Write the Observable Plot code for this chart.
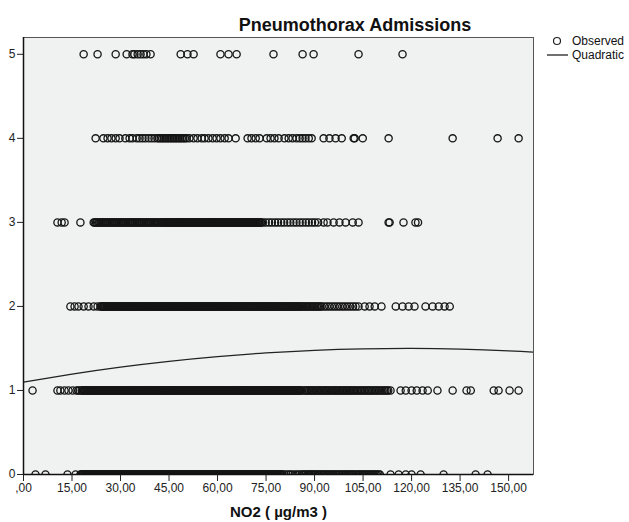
<!DOCTYPE html>
<html>
<head>
<meta charset="utf-8">
<script src="https://cdn.jsdelivr.net/npm/d3@7"></script>
<script src="https://cdn.jsdelivr.net/npm/@observablehq/plot@0.6"></script>
<style>
  html, body { margin: 0; padding: 0; background: #fff; }
  #wrap { position: relative; width: 629px; height: 522px; font-family: "Liberation Sans", Arial, sans-serif; }
  #title { position: absolute; left: 205px; width: 300px; top: 16px; text-align: center; font-size: 18px; line-height: 18px; font-weight: bold; color: #111; }
  .leg { position: absolute; font-size: 12px; line-height: 12px; color: #111; }
  svg [aria-label="x-axis label"] text { font-weight: bold; font-size: 15px; fill: #111; }
</style>
</head>
<body>
<div id="wrap">
  <div id="title">Pneumothorax Admissions</div>
  <svg class="leg" style="left:552px;top:36px" width="12" height="12"><circle cx="5" cy="5" r="3.5" fill="none" stroke="#222" stroke-width="1.2"/></svg>
  <div class="leg" style="left:572px;top:35px">Observed</div>
  <svg class="leg" style="left:547px;top:50px" width="22" height="10"><line x1="0" y1="5" x2="21" y2="5" stroke="#222" stroke-width="1.3"/></svg>
  <div class="leg" style="left:572px;top:49px">Quadratic</div>
</div>
<script>
const xTicks = [0, 15, 30, 45, 60, 75, 90, 105, 120, 135, 150];
const xTickLabels = [",00", "15,00", "30,00", "45,00", "60,00", "75,00", "90,00", "105,00", "120,00", "135,00", "150,00"];
const yTicks = [0, 1, 2, 3, 4, 5];
const yTickLabels = ["0", "1", "2", "3", "4", "5"];

// Quadratic fit
const fitX = [0, 15, 30, 45, 60, 75, 90, 105, 120, 135, 150, 157.7];
const fitY = [1.10, 1.195, 1.278, 1.347, 1.403, 1.447, 1.478, 1.495, 1.500, 1.492, 1.471, 1.455];

// Observed NO2 values for each admissions count
const obs0 = [3.7, 6.8, 13.6, 16.1,
17.6,18.1,18.5,19,19.6,20,20.5,21.1,21.5,22,22.6,23,23.5,24.1,24.5,25,25.6,26,26.5,27.1,27.5,28,28.6,29,29.5,30.1,30.5,31,31.6,32,32.5,33.1,33.5,34,34.6,35,35.5,36.1,36.5,37,37.6,38,38.5,39.1,39.5,40,40.6,41,41.5,42.1,42.5,43,43.6,44,44.5,45.1,45.5,46,46.6,47,47.5,48.1,48.5,49,49.6,50,50.5,51.1,51.5,52,52.6,53,53.5,54.1,54.5,55,55.6,56,56.5,57.1,57.5,58,58.6,59,59.5,60.1,60.5,61,61.6,62,62.5,63.1,63.5,64,64.6,65,65.5,66.1,66.5,67,67.6,68,68.5,69.1,69.5,70,70.6,71,71.5,72.1,72.5,73,73.6,74,74.5,75.1,75.5,76,76.6,77,77.5,78.1,78.5,79,79.6,80,80.6,81.3,82,82.6,83.2,84,84.7,85.3,86,
17.8,18.3,18.8,19.3,19.8,20.3,20.8,21.3,21.8,22.3,22.8,23.3,23.8,24.3,24.8,25.3,25.8,26.3,26.8,27.3,27.8,28.3,28.8,29.3,29.8,30.3,30.8,31.3,31.8,32.3,32.8,33.3,33.8,34.3,34.8,35.3,35.8,36.3,36.8,37.3,37.8,38.3,38.8,39.3,39.8,40.3,40.8,41.3,41.8,42.3,42.8,43.3,43.8,44.3,44.8,45.3,45.8,46.3,46.8,47.3,47.8,48.3,48.8,49.3,49.8,50.3,50.8,51.3,51.8,52.3,52.8,53.3,53.8,54.3,54.8,55.3,55.8,56.3,56.8,57.3,57.8,58.3,58.8,59.3,59.8,60.3,60.8,61.3,61.8,62.3,62.8,63.3,63.8,64.3,64.8,65.3,65.8,66.3,66.8,67.3,67.8,68.3,68.8,69.3,69.8,70.3,70.8,71.3,71.8,72.3,72.8,73.3,73.8,74.3,74.8,75.3,75.8,76.3,76.8,77.3,77.8,78.3,78.8,79.3,79.8,
86.8,87.7,88.5,89.2,90,90.9,91.7,92.6,93.5,94.3,95.2,96,96.9,97.8,98.8,99.6,100.5,101.3,102.2,103.2,104,104.9,105.8,106.7,107.5,108.4,109.3,110.2,
86.4,87.2,88.1,88.9,89.6,90.4,91.3,92.2,93,93.9,94.7,95.6,96.5,97.4,98.3,99.2,100,100.9,101.8,102.7,103.6,104.5,105.4,106.2,107.1,108,108.9,109.8,
113.5, 116, 118.2, 120, 122.8, 129.9, 139.8, 143.5];

const obs1 = [2.8, 10.5, 11.4, 12.7, 13.9, 15.2, 16.4,
16.9,17.4,18,18.4,18.9,19.5,19.9,20.4,21,21.4,21.9,22.5,22.9,23.4,24,24.4,24.9,25.5,25.9,26.4,27,27.4,27.9,28.5,28.9,29.4,30,30.4,30.9,31.5,31.9,32.4,33,33.4,33.9,34.5,34.9,35.4,36,36.4,36.9,37.5,37.9,38.4,39,39.4,39.9,40.5,40.9,41.4,42,42.4,42.9,43.5,43.9,44.4,45,45.4,45.9,46.5,46.9,47.4,48,48.4,48.9,49.5,49.9,50.4,51,51.4,51.9,52.5,52.9,53.4,54,54.4,54.9,55.5,55.9,56.4,57,57.4,57.9,58.5,58.9,59.4,60,60.4,60.9,61.5,61.9,62.4,63,63.4,63.9,64.5,64.9,65.4,66,66.4,66.9,67.5,67.9,68.4,69,69.4,69.9,70.5,70.9,71.4,72,72.4,72.9,73.5,73.9,74.4,75,75.4,75.9,76.5,76.9,77.4,78,78.4,78.9,79.5,79.9,80.4,81,81.4,81.9,82.5,82.9,83.4,84,84.4,84.9,85.5,86,
18.2,18.7,19.2,19.7,20.2,20.7,21.2,21.7,22.2,22.7,23.2,23.7,24.2,24.7,25.2,25.7,26.2,26.7,27.2,27.7,28.2,28.7,29.2,29.7,30.2,30.7,31.2,31.7,32.2,32.7,33.2,33.7,34.2,34.7,35.2,35.7,36.2,36.7,37.2,37.7,38.2,38.7,39.2,39.7,40.2,40.7,41.2,41.7,42.2,42.7,43.2,43.7,44.2,44.7,45.2,45.7,46.2,46.7,47.2,47.7,48.2,48.7,49.2,49.7,50.2,50.7,51.2,51.7,52.2,52.7,53.2,53.7,54.2,54.7,55.2,55.7,56.2,56.7,57.2,57.7,58.2,58.7,59.2,59.7,60.2,60.7,61.2,61.7,62.2,62.7,63.2,63.7,64.2,64.7,65.2,65.7,66.2,66.7,67.2,67.7,68.2,68.7,69.2,69.7,70.2,70.7,71.2,71.7,72.2,72.7,73.2,73.7,74.2,74.7,75.2,75.7,76.2,76.7,77.2,77.7,78.2,78.7,79.2,79.7,80.2,80.7,81.2,81.7,82.2,82.7,83.2,83.7,84.2,84.7,85.2,85.7,
86.7,87.5,88.3,89,89.8,90.6,91.3,92.1,92.9,93.6,94.4,95.2,96,96.7,97.5,98.3,99.1,99.8,100.6,101.4,102.2,103,103.9,104.7,105.6,106.5,107.3,108.2,109.1,110,111,111.9,112.8,113.5,
87.1,87.9,88.7,89.4,90.2,91,91.7,92.5,93.3,94,94.8,95.6,96.4,97.1,97.9,98.7,99.5,100.2,101,101.8,102.6,103.5,104.3,105.2,106.1,106.9,107.8,108.7,109.6,110.5,111.5,112.4,
116.6, 118.2, 120, 121.6, 123.4, 125, 128, 132.7, 137, 138.3, 145.4, 146.9, 150.3, 153.1];

const obs2 = [14.5, 15.8, 17, 18.6, 20.1, 21.7, 22.9,
23.8,24.3,24.8,25.3,25.8,26.3,26.8,27.3,27.8,28.3,28.8,29.3,29.8,30.3,30.8,31.3,31.8,32.3,32.8,33.3,33.8,34.3,34.8,35.3,35.8,36.3,36.8,37.3,37.8,38.3,38.8,39.3,39.8,40.3,40.8,41.3,41.8,42.3,42.8,43.3,43.8,44.3,44.8,45.3,45.8,46.3,46.8,47.3,47.8,48.3,48.8,49.3,49.8,50.3,50.8,51.3,51.8,52.3,52.8,53.3,53.8,54.3,54.8,55.3,55.8,56.3,56.8,57.3,57.8,58.3,58.8,59.3,59.8,60.3,60.8,61.3,61.8,62.3,62.8,63.3,63.8,64.3,64.8,
24.1,24.6,25.1,25.6,26.1,26.6,27.1,27.6,28.1,28.6,29.1,29.6,30.1,30.6,31.1,31.6,32.1,32.6,33.1,33.6,34.1,34.6,35.1,35.6,36.1,36.6,37.1,37.6,38.1,38.6,39.1,39.6,40.1,40.6,41.1,41.6,42.1,42.6,43.1,43.6,44.1,44.6,45.1,45.6,46.1,46.6,47.1,47.6,48.1,48.6,49.1,49.6,50.1,50.6,51.1,51.6,52.1,52.6,53.1,53.6,54.1,54.6,55.1,55.6,56.1,56.6,57.1,57.6,58.1,58.6,59.1,59.6,60.1,60.6,61.1,61.6,62.1,62.6,63.1,63.6,64.1,64.6,
65.4,66,66.6,67.2,67.8,68.4,69,69.6,70.2,70.8,71.4,72,72.6,73.2,73.8,74.4,75,75.6,76.2,76.8,77.4,78,78.6,79.2,79.8,80.4,81,81.6,82.2,82.8,83.4,84,84.6,85.2,85.8,
65.1,65.7,66.3,66.9,67.5,68.1,68.7,69.3,69.9,70.5,71.1,71.7,72.3,72.9,73.5,74.1,74.7,75.3,75.9,76.5,77.1,77.7,78.3,78.9,79.5,80.1,80.7,81.3,81.9,82.5,83.1,83.7,84.3,84.9,85.5,
86.6,87.4,88.2,89,89.8,90.6,91.4,92.2,93,93.8,94.6,95.4,96.2,97,97.8,98.6,99.4,100.2,101,101.9,102.7,
86.2,87,87.8,88.6,89.4,90.2,91,91.8,
103.6, 105.5, 107, 108.6, 110.7, 115.1, 117.2, 119.1, 120.9, 124.3, 126.5, 128.4, 130.2, 131.8];

const obs3 = [10.5, 11.8, 12.7, 17.6,
21.7,22.4,23.1,23.8,24.5,25.2,25.9,26.6,27.3,28,28.7,29.4,30.1,30.8,31.5,32.2,32.9,33.6,34.3,35,35.7,36.4,37.1,37.8,38.5,39.2,39.9,40.6,41.3,42,
22,22.7,23.4,24.1,24.8,25.5,26.2,26.9,27.6,28.3,29,29.7,30.4,31.1,31.8,32.5,33.2,33.9,34.6,35.3,36,36.7,37.4,38.1,38.8,39.5,40.2,40.9,41.6,
42.5,43,43.5,44,44.5,45,45.5,46,46.5,47,47.5,48,48.5,49,49.5,50,50.5,51,51.5,52,52.5,53,53.5,54,54.5,55,55.5,56,56.5,57,57.5,58,58.5,59,59.5,60,60.5,61,61.5,62,62.5,63,63.5,64,64.5,65,65.5,66,66.5,67,67.5,68,68.5,69,69.5,70,70.5,71,71.5,72,72.5,73,73.5,74,
42.8,43.3,43.8,44.3,44.8,45.3,45.8,46.3,46.8,47.3,47.8,48.3,48.8,49.3,49.8,50.3,50.8,51.3,51.8,52.3,52.8,53.3,53.8,54.3,54.8,55.3,55.8,56.3,56.8,57.3,57.8,58.3,58.8,59.3,59.8,60.3,60.8,61.3,61.8,62.3,62.8,63.3,63.8,64.3,64.8,65.3,65.8,66.3,66.8,67.3,67.8,68.3,68.8,69.3,69.8,70.3,70.8,71.3,71.8,72.3,72.8,73.3,
74.9,75.9,76.8,77.8,78.7,79.7,80.6,81.6,82.5,83.5,84.4,85.4,86.3,87.3,88.2,89.2,90.1,91.1,
92.8, 94, 95.9, 97.7, 99.6, 101.8, 103.6, 112.9, 113.2, 117.5, 121.2, 122];

const obs4 = [22.3, 24.7, 26, 27.2, 28.5, 29.7, 31.5, 32.8, 33.7, 35, 35.9, 36.8, 37.7, 38.7, 39.6, 40.5,
41.4,41.9,42.4,42.9,43.4,43.9,44.4,44.9,45.4,45.9,46.4,46.9,47.4,47.9,48.4,48.9,49.4,49.9,50.4,
51.3, 52.6, 53.8, 55.1, 56, 57.2, 58.5, 59.7, 60.9, 62.2, 63.4, 65.6, 69.3, 70.5, 71.8, 73, 75.2, 76.4, 77.6, 78.9,
80.7, 82, 83.2, 84.4, 85.4, 86.3, 87.2, 88.2, 89.1, 92.8, 94.6, 96.5, 98.4, 102.1, 102.4, 104.9, 112.9, 132.7, 146.6, 153.1];

const obs5 = [18.6, 22.9, 28.5, 31.9, 33.7, 34.3, 35.3, 36.2, 37.1, 38, 39.3, 48.6, 50.7, 52.6, 60.9, 63.4, 65.9, 77.3, 86.3, 89.7, 103.6, 117.2];

const observed = [obs0, obs1, obs2, obs3, obs4, obs5]
  .flatMap((xs, count) => xs.map(x => ({x, count})));
const fit = fitX.map((x, i) => ({x, y: fitY[i]}));

const chart = Plot.plot({
  width: 629,
  height: 522,
  marginLeft: 23,
  marginRight: 96,
  marginTop: 37,
  marginBottom: 48,
  style: {fontFamily: "Liberation Sans, Arial, sans-serif", fontSize: "12px", color: "#222", background: "transparent"},
  x: {domain: [0, 157.7]},
  y: {domain: [0, 5.2]},
  marks: [
    Plot.frame({fill: "#f0f1f1", stroke: "#555", strokeWidth: 1}),
    Plot.dot(observed, {x: "x", y: "count", r: 3.6, stroke: "#151515", strokeWidth: 1.3, fill: "none", clip: true}),
    Plot.line(fit, {x: "x", y: "y", curve: "natural", stroke: "#222", strokeWidth: 1.3, clip: true}),
    Plot.ruleX([0], {stroke: "#111", strokeWidth: 1.5}),
    Plot.ruleY([0], {stroke: "#111", strokeWidth: 1.5}),
    Plot.axisX(xTicks, {
      tickSize: 7, tickPadding: 2, fontSize: 12,
      tickFormat: d => xTickLabels[xTicks.indexOf(d)],
      label: "NO2 ( µg/m3 )", labelAnchor: "center", labelArrow: "none", labelOffset: 42
    }),
    Plot.axisY(yTicks, {tickSize: 6, tickPadding: 2, fontSize: 12, label: null,
      tickFormat: d => yTickLabels[yTicks.indexOf(d)]})
  ]
});
chart.style.position = "absolute";
chart.style.left = "0";
chart.style.top = "0";
document.getElementById("wrap").prepend(chart);
</script>
</body>
</html>
